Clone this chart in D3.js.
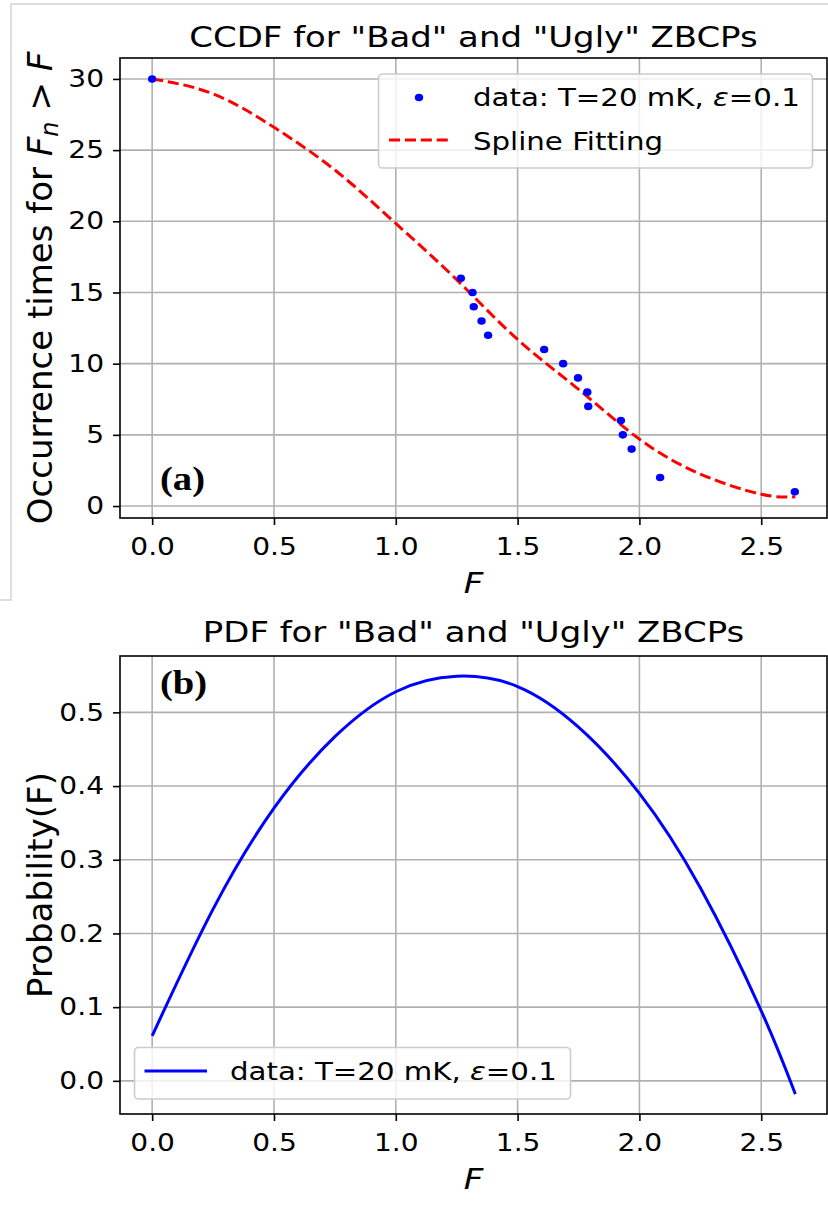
<!DOCTYPE html>
<html>
<head>
<meta charset="utf-8">
<script src="https://cdn.jsdelivr.net/npm/d3@7"></script>
<style>
  body { margin: 0; background: #fff; }
  svg { display: block; font-family: "DejaVu Sans", sans-serif; }
</style>
</head>
<body>
<svg id="chart" width="828" height="1209"></svg>
<script>
// measured data points (CCDF)
const dataF = [0, 1.267, 1.315, 1.32, 1.352, 1.379, 1.609, 1.687, 1.748, 1.786, 1.79, 1.924, 1.932, 1.968, 2.085, 2.638]
const dataN = [30, 16, 15, 14, 13, 12, 11, 10, 9, 8, 7, 6, 5, 4, 2, 1]

// spline fit
const splineF = [0, 0.25, 0.5, 0.75, 1.0, 1.25, 1.5, 1.75, 2.0, 2.25, 2.5, 2.64]
const splineN = [30, 28.95, 26.6, 23.6, 19.85, 15.9, 11.7, 8.2, 4.7, 2.25, 0.83, 0.65]

// pdf curve
const pdfF = [0, 0.25, 0.5, 0.75, 1.0, 1.25, 1.5, 1.75, 2.0, 2.25, 2.5, 2.64]
const pdfP = [0.061, 0.233, 0.37, 0.467, 0.528, 0.549, 0.535, 0.48, 0.39, 0.262, 0.095, -0.018]

const xTicks = [0, 0.5, 1.0, 1.5, 2.0, 2.5]
const yTicksA = [0, 5, 10, 15, 20, 25, 30]
const yTicksB = [0, 0.1, 0.2, 0.3, 0.4, 0.5]

const svg = d3.select('#chart')
const gridColor = '#b0b0b0'
const SX = 1.17   // the original picture is stretched sideways

// text placed at (x,y), widened by SX
function stext (parent, x, y, size) {
  return parent.append('text')
    .attr('transform', `translate(${x},${y}) scale(${SX},1)`)
    .attr('font-size', size)
}

// faint frame around the top figure
svg.append('path')
  .attr('d', 'M11,4 H828 M11,4 V600 H0')
  .attr('fill', 'none')
  .attr('stroke', '#d4d4d4')
  .attr('stroke-width', 1.5)

function panel (opt) {
  const x = d3.scaleLinear().domain([-0.132, 2.77]).range([120, 827])
  const y = d3.scaleLinear().domain(opt.ydom).range([opt.bottom, opt.top])
  const g = svg.append('g')

  // grid
  g.append('g').selectAll('line').data(xTicks).join('line')
    .attr('x1', d => x(d)).attr('x2', d => x(d))
    .attr('y1', opt.top).attr('y2', opt.bottom)
    .attr('stroke', gridColor).attr('stroke-width', 1.6)
  g.append('g').selectAll('line').data(opt.yticks).join('line')
    .attr('y1', d => y(d)).attr('y2', d => y(d))
    .attr('x1', 120).attr('x2', 827)
    .attr('stroke', gridColor).attr('stroke-width', 1.6)

  // axes
  const ax = g.append('g')
    .attr('transform', `translate(0,${opt.bottom})`)
    .call(d3.axisBottom(x).tickValues(xTicks).tickFormat(d3.format('.1f')).tickSize(7).tickPadding(13))
  const ay = g.append('g')
    .attr('transform', 'translate(120,0)')
    .call(d3.axisLeft(y).tickValues(opt.yticks).tickFormat(opt.yfmt).tickSize(7).tickPadding(9))
  for (const a of [ax, ay]) {
    a.select('.domain').remove()
    a.selectAll('line').attr('stroke', '#000').attr('stroke-width', 1.6)
    a.selectAll('text').attr('font-size', 24).attr('font-family', 'DejaVu Sans').attr('fill', '#000')
  }
  ax.selectAll('text').attr('transform', `scale(${SX},1)`)
  ay.selectAll('text').attr('x', 0).attr('transform', `translate(-16,0) scale(${SX},1)`)

  // title
  stext(g, 473.5, opt.titleY, 29).attr('text-anchor', 'middle').text(opt.title)

  // x label
  stext(g, 473.5, opt.bottom + 75, 29).attr('text-anchor', 'middle').attr('font-style', 'italic').text('F')

  // y label
  const yl = g.append('text')
    .attr('transform', `translate(52,${(opt.top + opt.bottom) / 2}) rotate(-90)`)
    .attr('text-anchor', 'middle').attr('font-size', 34)

  return { g, x, y, yl }
}

// ---------- panel (a)
const A = panel({
  top: 58, bottom: 518, ydom: [-0.84, 31.47], yticks: yTicksA, yfmt: d3.format('d'),
  title: 'CCDF for "Bad" and "Ugly" ZBCPs', titleY: 47
})

A.g.append('path')
  .datum(splineF.map((f, i) => [f, splineN[i]]))
  .attr('fill', 'none')
  .attr('stroke', '#ff0000')
  .attr('stroke-width', 3)
  .attr('stroke-dasharray', '11.1,4.8')
  .attr('d', d3.line().x(d => A.x(d[0])).y(d => A.y(d[1])).curve(d3.curveNatural))

A.g.append('g').selectAll('ellipse')
  .data(dataF.map((f, i) => [f, dataN[i]]))
  .join('ellipse')
  .attr('cx', d => A.x(d[0])).attr('cy', d => A.y(d[1]))
  .attr('rx', 4.2).attr('ry', 3.8).attr('fill', '#0000ff')

A.g.append('rect')
  .attr('x', 120).attr('y', 58).attr('width', 707).attr('height', 460)
  .attr('fill', 'none').attr('stroke', '#000').attr('stroke-width', 1.6)

stext(A.g, 160, 490, 33)
  .attr('font-family', 'Liberation Serif').attr('font-weight', 'bold')
  .text('(a)')

// legend (a)
const la = A.g.append('g')
la.append('rect')
  .attr('x', 378.5).attr('y', 74).attr('width', 434).attr('height', 94).attr('rx', 4)
  .attr('fill', '#fff').attr('fill-opacity', 0.8).attr('stroke', '#cccccc').attr('stroke-width', 1.6)
la.append('ellipse').attr('cx', 419).attr('cy', 97.5).attr('rx', 4.2).attr('ry', 3.8).attr('fill', '#0000ff')
la.append('line').attr('x1', 389).attr('x2', 449.5).attr('y1', 140).attr('y2', 140)
  .attr('stroke', '#ff0000').attr('stroke-width', 3).attr('stroke-dasharray', '11.1,4.8')
const t1 = stext(la, 473, 106, 25)
t1.append('tspan').text('data: T=20 mK, ')
t1.append('tspan').attr('font-style', 'italic').text('ε')
t1.append('tspan').text('=0.1')
stext(la, 473, 149.5, 25).text('Spline Fitting')

// y label (a)
A.yl.append('tspan').text('Occurrence times for ')
A.yl.append('tspan').attr('font-style', 'italic').text('F')
A.yl.append('tspan').attr('font-style', 'italic').attr('font-size', 24).attr('dy', 6).text('n')
A.yl.append('tspan').attr('dy', -6).text(' > ')
A.yl.append('tspan').attr('font-style', 'italic').text('F')

// ---------- panel (b)
const B = panel({
  top: 656, bottom: 1114, ydom: [-0.045, 0.5765], yticks: yTicksB, yfmt: d3.format('.1f'),
  title: 'PDF for "Bad" and "Ugly" ZBCPs', titleY: 641.5
})

B.g.append('path')
  .datum(pdfF.map((f, i) => [f, pdfP[i]]))
  .attr('fill', 'none')
  .attr('stroke', '#0000ff')
  .attr('stroke-width', 3)
  .attr('d', d3.line().x(d => B.x(d[0])).y(d => B.y(d[1])).curve(d3.curveNatural))

B.g.append('rect')
  .attr('x', 120).attr('y', 656).attr('width', 707).attr('height', 458)
  .attr('fill', 'none').attr('stroke', '#000').attr('stroke-width', 1.6)

stext(B.g, 160, 694, 33)
  .attr('font-family', 'Liberation Serif').attr('font-weight', 'bold')
  .text('(b)')

const lb = B.g.append('g')
lb.append('rect')
  .attr('x', 134.5).attr('y', 1047.5).attr('width', 436).attr('height', 51.5).attr('rx', 4)
  .attr('fill', '#fff').attr('fill-opacity', 0.8).attr('stroke', '#cccccc').attr('stroke-width', 1.6)
lb.append('line').attr('x1', 144.5).attr('x2', 207).attr('y1', 1071).attr('y2', 1071)
  .attr('stroke', '#0000ff').attr('stroke-width', 3)
const t2 = stext(lb, 230, 1080, 25)
t2.append('tspan').text('data: T=20 mK, ')
t2.append('tspan').attr('font-style', 'italic').text('ε')
t2.append('tspan').text('=0.1')

B.yl.text('Probability(F)')
</script>
</body>
</html>
